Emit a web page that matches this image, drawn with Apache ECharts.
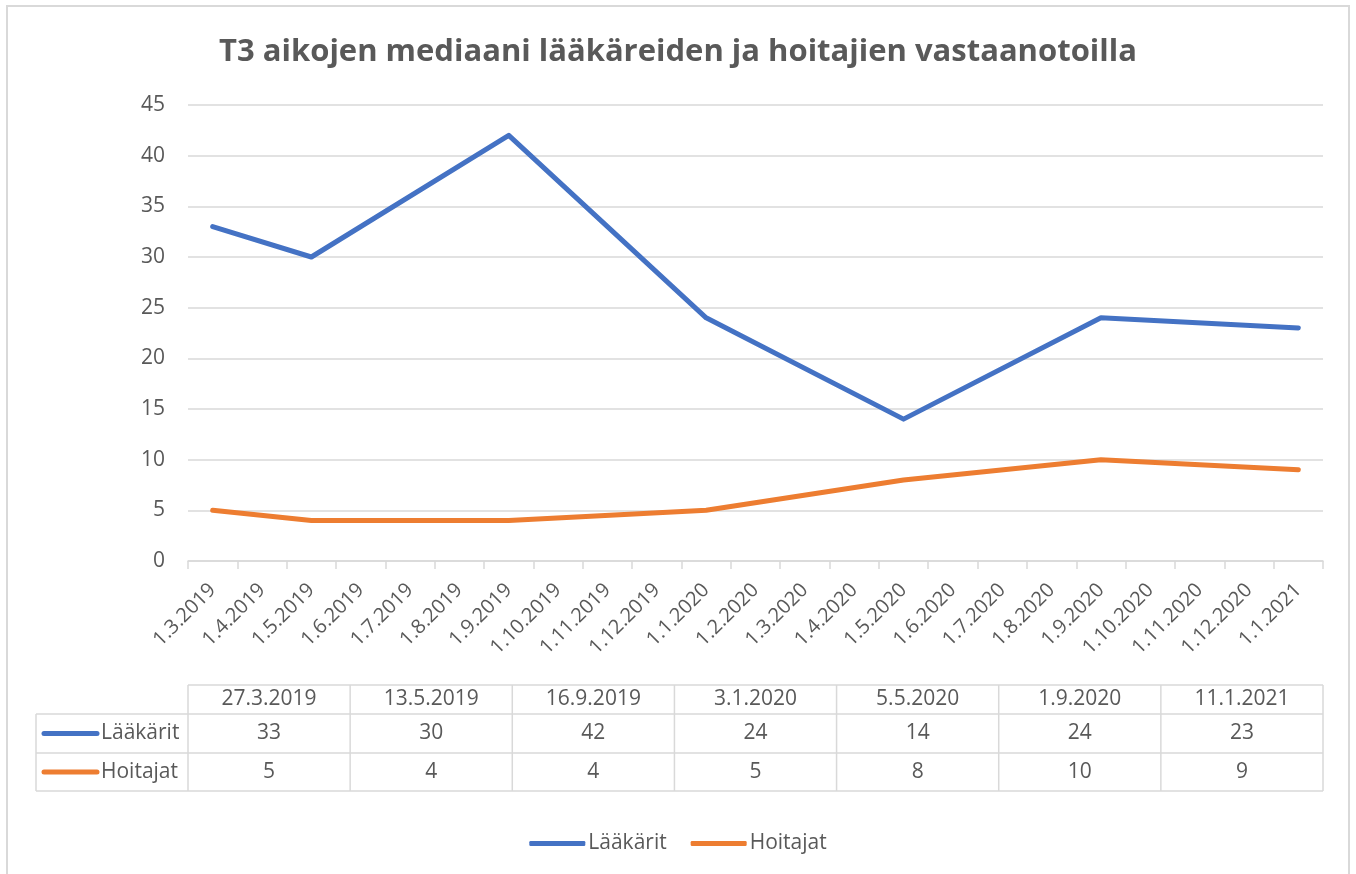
<!DOCTYPE html>
<html>
<head>
<meta charset="utf-8">
<title>T3 aikojen mediaani</title>
<script src="https://cdn.jsdelivr.net/npm/echarts@6/dist/echarts.min.js"></script>
<style>
  html, body { margin: 0; padding: 0; background: #fff; }
  #main { width: 1356px; height: 874px; }
</style>
</head>
<body>
<div id="main"></div>
<script>
// kuukausiakselin nimikkeet
var monthLabels = ['1.3.2019', '1.4.2019', '1.5.2019', '1.6.2019', '1.7.2019', '1.8.2019',
  '1.9.2019', '1.10.2019', '1.11.2019', '1.12.2019', '1.1.2020', '1.2.2020', '1.3.2020',
  '1.4.2020', '1.5.2020', '1.6.2020', '1.7.2020', '1.8.2020', '1.9.2020', '1.10.2020',
  '1.11.2020', '1.12.2020', '1.1.2021'];
// mittauspäivät (taulukon otsikot)
var measureDates = ['27.3.2019', '13.5.2019', '16.9.2019', '3.1.2020', '5.5.2020', '1.9.2020', '11.1.2021'];
var laakarit = [33, 30, 42, 24, 14, 24, 23];
var hoitajat = [5, 4, 4, 5, 8, 10, 9];
var yTicks = [0, 5, 10, 15, 20, 25, 30, 35, 40, 45];

var seriesNames = ['Lääkärit', 'Hoitajat'];
var colors = ['#4472C4', '#ED7D31'];
var FONT = '"Open Sans", "Noto Sans", sans-serif';
var TXT = '#595959';
var GRIDC = '#d9d9d9';

// päivämäärä -> kuukauden indeksi akselilla
function monthIdx(d) {
  var p = d.split('.');
  return monthLabels.indexOf('1.' + p[1] + '.' + p[2]);
}
function toSeries(vals) {
  var arr = monthLabels.map(function () { return null; });
  measureDates.forEach(function (d, i) { arr[monthIdx(d)] = vals[i]; });
  return arr;
}

var plotL = 188, plotR = 1323, plotT = 105, plotB = 561;

// datataulukko grafiikkana
var tblTop = 685, rowH = [29, 39, 38], tblLeft = 36;
var colW = (plotR - plotL) / measureDates.length;
var g = [];
var lineStyle = { stroke: GRIDC, lineWidth: 1.5 };
var rowY = [tblTop, tblTop + rowH[0], tblTop + rowH[0] + rowH[1], tblTop + rowH[0] + rowH[1] + rowH[2]];
// vaakaviivat
g.push({ type: 'line', shape: { x1: plotL, y1: rowY[0], x2: plotR, y2: rowY[0] }, style: lineStyle });
for (var r = 1; r < 4; r++) {
  g.push({ type: 'line', shape: { x1: tblLeft, y1: rowY[r], x2: plotR, y2: rowY[r] }, style: lineStyle });
}
// pystyviivat
g.push({ type: 'line', shape: { x1: tblLeft, y1: rowY[1], x2: tblLeft, y2: rowY[3] }, style: lineStyle });
for (var c = 0; c <= measureDates.length; c++) {
  var x = plotL + c * colW;
  g.push({ type: 'line', shape: { x1: x, y1: rowY[0], x2: x, y2: rowY[3] }, style: lineStyle });
}
var cellFont = '21px ' + FONT;
measureDates.forEach(function (d, i) {
  var cx = plotL + (i + 0.5) * colW;
  g.push({ type: 'text', x: cx, y: (rowY[0] + rowY[1]) / 2,
    style: { text: d, font: cellFont, fill: TXT, align: 'center', verticalAlign: 'middle' } });
  g.push({ type: 'text', x: cx, y: (rowY[1] + rowY[2]) / 2,
    style: { text: String(laakarit[i]), font: cellFont, fill: TXT, align: 'center', verticalAlign: 'middle' } });
  g.push({ type: 'text', x: cx, y: (rowY[2] + rowY[3]) / 2,
    style: { text: String(hoitajat[i]), font: cellFont, fill: TXT, align: 'center', verticalAlign: 'middle' } });
});
seriesNames.forEach(function (n, i) {
  var cy = (rowY[i + 1] + rowY[i + 2]) / 2;
  g.push({ type: 'line', shape: { x1: 44, y1: cy, x2: 97, y2: cy },
    style: { stroke: colors[i], lineWidth: 5, lineCap: 'round' } });
  g.push({ type: 'text', x: 101, y: cy,
    style: { text: n, font: cellFont, fill: TXT, align: 'left', verticalAlign: 'middle' } });
});
// ulkokehys
g.push({ type: 'rect', shape: { x: 7, y: 6, width: 1342, height: 880 },
  style: { fill: null, stroke: GRIDC, lineWidth: 2 }, z: -1 });

var chart = echarts.init(document.getElementById('main'));
var option = {
  animation: false,
  color: colors,
  title: {
    text: 'T3 aikojen mediaani lääkäreiden ja hoitajien vastaanotoilla',
    left: 'center',
    top: 32,
    textStyle: { fontFamily: FONT, fontSize: 31, fontWeight: 'bold', color: TXT }
  },
  legend: {
    bottom: 15,
    left: 'center',
    data: seriesNames,
    icon: 'roundRect',
    itemWidth: 56,
    itemHeight: 5,
    itemGap: 24,
    textStyle: { fontFamily: FONT, fontSize: 21, color: TXT, padding: [0, 0, 0, -2] }
  },
  grid: { left: plotL, right: 1356 - plotR, top: plotT, bottom: 874 - plotB, containLabel: false },
  xAxis: {
    type: 'category',
    data: monthLabels,
    boundaryGap: true,
    axisLine: { lineStyle: { color: GRIDC, width: 1.5 } },
    axisTick: { show: true, length: 8, lineStyle: { color: GRIDC, width: 1.5 } },
    axisLabel: { interval: 0, rotate: 45, margin: 26, fontFamily: FONT, fontSize: 20, color: TXT }
  },
  yAxis: {
    type: 'value',
    min: yTicks[0],
    max: yTicks[yTicks.length - 1],
    interval: 5,
    axisLine: { show: false },
    axisTick: { show: false },
    splitLine: { lineStyle: { color: GRIDC, width: 1.5 } },
    axisLabel: { margin: 23, fontFamily: FONT, fontSize: 21, color: TXT }
  },
  series: seriesNames.map(function (n, i) {
    return {
      name: n,
      type: 'line',
      data: toSeries(i === 0 ? laakarit : hoitajat),
      connectNulls: true,
      showSymbol: false,
      symbol: 'none',
      lineStyle: { width: 5, color: colors[i], join: 'round', cap: 'round' }
    };
  }),
  graphic: g
};
chart.setOption(option);
</script>
</body>
</html>
